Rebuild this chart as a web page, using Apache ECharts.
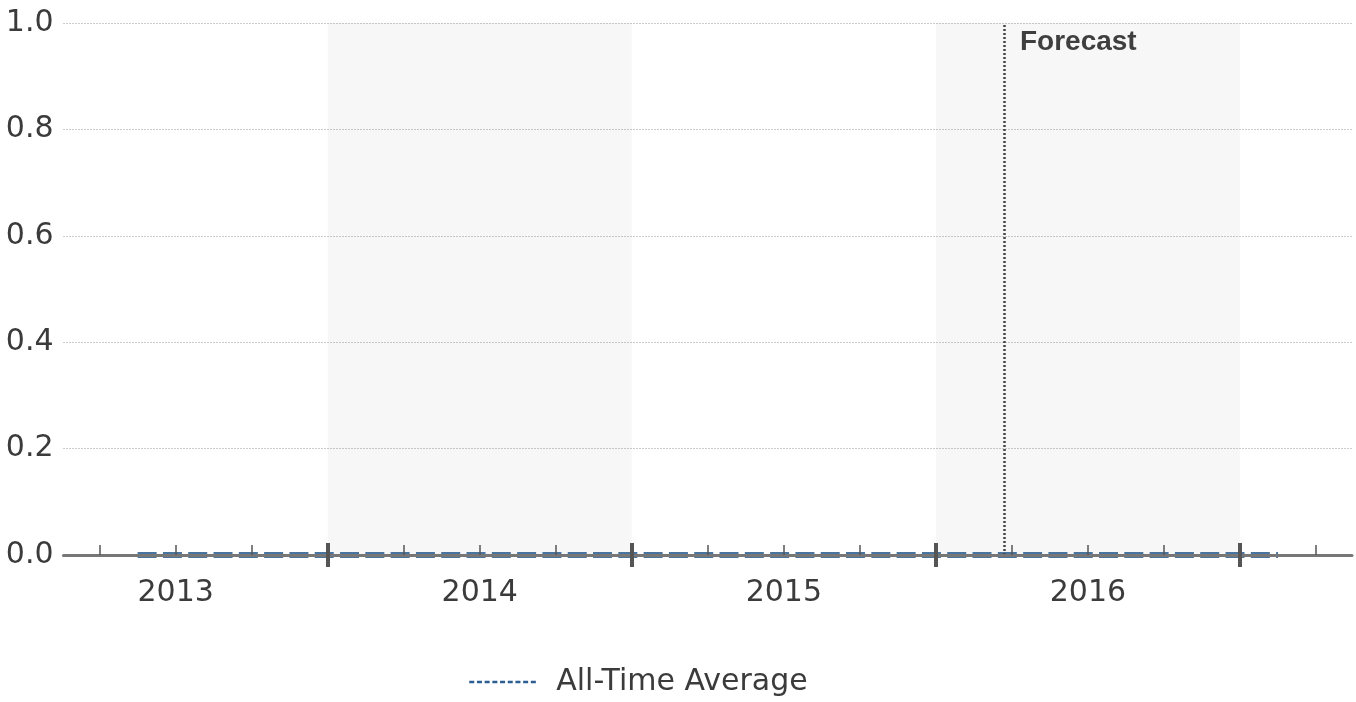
<!DOCTYPE html>
<html>
<head>
<meta charset="utf-8">
<script src="https://cdn.jsdelivr.net/npm/echarts@6/dist/echarts.min.js"></script>
<style>
  html, body { margin: 0; padding: 0; background: #fff; }
  #chart { width: 1356px; height: 702px; }
</style>
</head>
<body>
<div id="chart"></div>
<script>
// monthly points, all zero
const months = [
    '2013-05', '2013-06', '2013-07', '2013-08', '2013-09', '2013-10', '2013-11', '2013-12',
    '2014-01', '2014-02', '2014-03', '2014-04', '2014-05', '2014-06', '2014-07', '2014-08',
    '2014-09', '2014-10', '2014-11', '2014-12', '2015-01', '2015-02', '2015-03', '2015-04',
    '2015-05', '2015-06', '2015-07', '2015-08', '2015-09', '2015-10', '2015-11', '2015-12',
    '2016-01', '2016-02', '2016-03', '2016-04', '2016-05', '2016-06', '2016-07', '2016-08',
    '2016-09', '2016-10', '2016-11', '2016-12', '2017-01', '2017-02'
];
const allTimeAverage = [
    0, 0, 0, 0, 0, 0, 0, 0,
    0, 0, 0, 0, 0, 0, 0, 0,
    0, 0, 0, 0, 0, 0, 0, 0,
    0, 0, 0, 0, 0, 0, 0, 0,
    0, 0, 0, 0, 0, 0, 0, 0,
    0, 0, 0, 0, 0, 0
];
const yearLabels = ['2013', '2014', '2015', '2016'];
const shadedYears = ['2014', '2016'];
const forecastDate = '2016-03-22';
const yTicks = [0, 0.2, 0.4, 0.6, 0.8, 1.0];

// position in months since Jan 2013 (mid-month when no day given)
function monthPos(str) {
    const [y, m, d] = str.split('-').map(Number);
    return (y - 2013) * 12 + (m - 1) + (d ? (d - 1) / 30.5 : 0.5);
}

const xMin = 1.575, xMax = 52.42;
const majorTicks = [], minorTicks = [];
for (let q = 3; q < xMax; q += 3) {
    if (q % 12 === 0) majorTicks.push(q); else minorTicks.push(q);
}
const labelPos = yearLabels.map(y => (Number(y) - 2013) * 12 + 6);
const forecastX = monthPos(forecastDate);

const textColor = '#3b3b3b';
const font = 'DejaVu Sans';

function tickAxis(inside) {
    return {
        type: 'value', min: xMin, max: xMax, position: 'bottom', gridIndex: 0, z: 6,
        axisLine: { show: false },
        splitLine: { show: false },
        axisLabel: { show: false },
        axisTick: { show: true, inside: inside, length: 12, customValues: majorTicks,
                    lineStyle: { color: '#555', width: 4 } }
    };
}

const chart = echarts.init(document.getElementById('chart'));
chart.setOption({
    animation: false,
    grid: { left: 63.5, right: 4, top: 23, bottom: 147 },
    legend: {
        data: ['All-Time Average'],
        left: 468, top: 667, padding: 0,
        itemWidth: 69, itemHeight: 10,
        lineStyle: { color: '#2d5e93', width: 2.5, type: [5, 2.7] },
        textStyle: { fontSize: 30, fontFamily: font, color: textColor, padding: [0, 0, 0, 13] }
    },
    xAxis: [
        {
            type: 'value', min: xMin, max: xMax, position: 'bottom', z: 5,
            axisLine: { show: true, lineStyle: { color: '#777', width: 3 } },
            splitLine: { show: false },
            axisTick: { show: true, inside: true, length: 10, customValues: minorTicks,
                        lineStyle: { color: '#555', width: 1.5 } },
            axisLabel: {
                customValues: labelPos,
                formatter: v => yearLabels[labelPos.indexOf(v)] || '',
                fontSize: 30, fontFamily: font, color: textColor, margin: 23
            }
        },
        tickAxis(true),
        tickAxis(false)
    ],
    yAxis: {
        type: 'value', min: 0, max: 1, interval: 0.2,
        axisLine: { show: false },
        axisTick: { show: false },
        splitLine: { show: true, lineStyle: { color: '#9a9a9a', type: [1, 2], width: 1 } },
        axisLabel: {
            formatter: v => v.toFixed(1),
            fontSize: 30, fontFamily: font, color: textColor, margin: 10
        }
    },
    series: [
        {
            name: 'All-Time Average',
            type: 'line',
            symbol: 'none',
            z: 2,
            itemStyle: { color: 'rgba(0,0,0,0)' },
            data: months.map((m, i) => [monthPos(m), allTimeAverage[i]]),
            lineStyle: { color: '#4a74a0', width: 6, type: [19, 6.3] },
            markArea: {
                silent: true,
                itemStyle: { color: 'rgba(0,0,0,0.03)' },
                data: shadedYears.map(y => [
                    { xAxis: (Number(y) - 2013) * 12 },
                    { xAxis: (Number(y) - 2013) * 12 + 12 }
                ])
            }
        },
        {
            name: 'Forecast',
            type: 'scatter',
            symbolSize: 0.1,
            itemStyle: { color: '#fff', opacity: 1 },
            data: [[forecastX, yTicks[yTicks.length - 1]]],
            label: {
                show: true,
                formatter: 'Forecast',
                position: [16, 19],
                align: 'left',
                verticalAlign: 'middle',
                fontSize: 28,
                fontWeight: 'bold',
                fontFamily: 'Liberation Sans',
                color: '#3f3f3f',
                opacity: 1
            },
            markLine: {
                silent: true,
                symbol: 'none',
                label: { show: false },
                lineStyle: { color: '#444', type: [2, 2], width: 2.5 },
                data: [{ xAxis: forecastX }]
            }
        }
    ]
});
</script>
</body>
</html>
